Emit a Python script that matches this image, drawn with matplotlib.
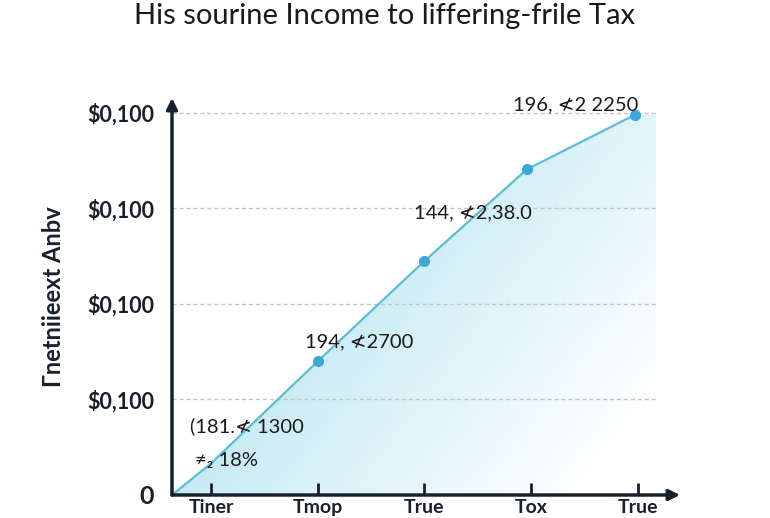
import numpy as np
import matplotlib
matplotlib.use('Agg')
import matplotlib.pyplot as plt
from matplotlib.colors import LinearSegmentedColormap

# chart data
x_ticks = [1, 2, 3, 4, 5]
x_labels = ['Tiner', 'Tmop', 'True', 'Tox', 'True']
y_ticks = [0, 1, 2, 3, 4]
y_labels = ['0', '$0,100', '$0,100', '$0,100', '$0,100']

line_x = [0.635, 1.0, 2.0, 3.0, 3.96, 4.97]
line_y = [0.0, 0.33, 1.40, 2.45, 3.41, 3.98]
point_x = [2.0, 3.0, 3.96, 4.97]
point_y = [1.40, 2.45, 3.41, 3.98]

notes = ['(181.\u226e 1300', '\u2260\u2082 18%', '194, \u226e2700', '144, \u226e2,38.0', '196, \u226e2 2250']
note_x = [0.80, 0.85, 1.88, 2.90, 3.83]
note_y = [0.72, 0.36, 1.60, 2.95, 4.08]

title = 'His sourine Income to liffering-frile Tax'
ylabel = '\u0413netniieext Anbv'

x0, x1 = 0.635, 5.394
y0, y1 = 0.0, 4.157
fill_end = 5.17

plt.rcParams['font.family'] = ['Lato', 'DejaVu Sans']

fig = plt.figure(figsize=(7.7, 5.18), dpi=100)
ax = fig.add_axes([172 / 770, 23 / 518, 508 / 770, 397 / 518])
ax.set_xlim(x0, x1)
ax.set_ylim(y0, y1)

# gradient fill under the line
fx = line_x + [fill_end, fill_end]
fy = line_y + [line_y[-1], 0.0]
poly = ax.fill(fx, fy, facecolor='none', edgecolor='none')[0]
gx, gy = np.meshgrid(np.linspace(0, 1, 300), np.linspace(1, 0, 200))
t = np.clip(0.75 * gx + 0.45 * (1 - gy) - 0.08, 0, 1)
cmap = LinearSegmentedColormap.from_list('fade', ['#a6deea', '#d2eff6', '#ffffff'])
img = ax.imshow(t, cmap=cmap, vmin=0, vmax=1, extent=[x0, fill_end, y0, line_y[-1]],
                aspect='auto', zorder=1, interpolation='bilinear')
img.set_clip_path(poly)

# dashed grid lines
ax.hlines(y_ticks[1:], x0, fill_end, colors='#c4c4c4', linestyles=(0, (3, 2)), linewidth=1, zorder=2)

ax.plot(line_x, line_y, color='#5cbcd4', linewidth=1.6, zorder=3)
ax.plot(point_x, point_y, 'o', color='#3aa9d9', markersize=7, zorder=4)

for s, xx, yy in zip(notes, note_x, note_y):
    ax.text(xx, yy, s, fontsize=14.5, color='#1a1a1a', family=['Lato', 'DejaVu Sans'],
            ha='left', va='center', zorder=5)

# axes with arrows
for sp in ax.spines.values():
    sp.set_visible(False)
ax.annotate('', xy=(x0, y1), xytext=(x0, y0),
            arrowprops=dict(arrowstyle='-|>', color='#17202b', lw=2.5, mutation_scale=16, shrinkA=0, shrinkB=0),
            annotation_clip=False)
ax.annotate('', xy=(x1, y0), xytext=(x0, y0),
            arrowprops=dict(arrowstyle='-|>', color='#17202b', lw=2.5, mutation_scale=16, shrinkA=0, shrinkB=0),
            annotation_clip=False)

ax.set_xticks(x_ticks)
ax.set_xticklabels(x_labels, fontsize=14, fontweight='bold', color='#17202b')
ax.tick_params(axis='x', direction='in', length=9, width=2, color='#17202b', pad=3)
ax.set_yticks(y_ticks)
ax.set_yticklabels(y_labels, fontsize=15.5, fontweight='bold', color='#17202b')
ax.tick_params(axis='y', length=0, pad=13)
ax.get_yticklabels()[0].set_fontsize(18)

ax.set_ylabel(ylabel, fontsize=17, fontweight='bold', color='#17202b', labelpad=16)
fig.text(0.5, 0.97, title, fontsize=21, ha='center', va='center', color='#1a1a1a')

plt.savefig('out.png', dpi=100)
